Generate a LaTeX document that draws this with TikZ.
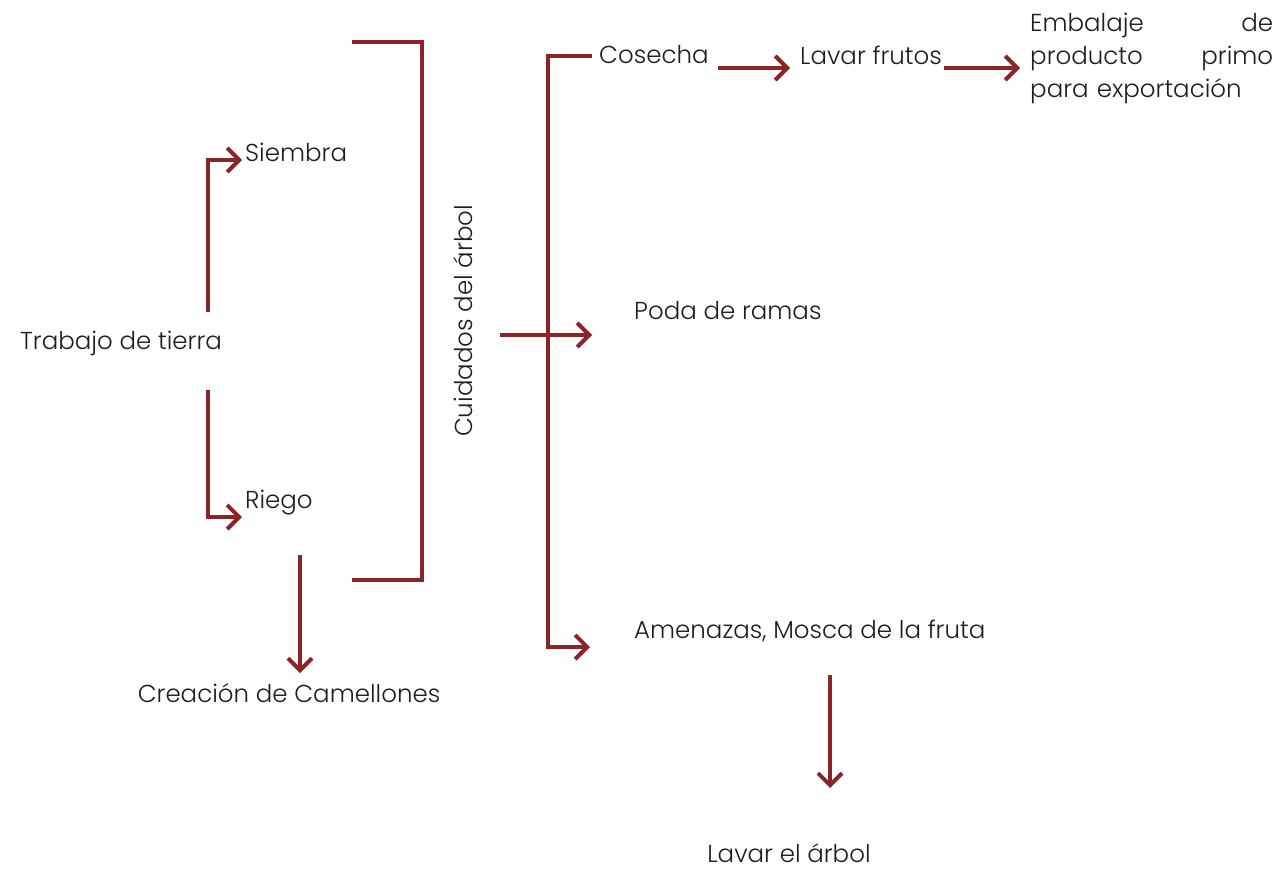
\documentclass[tikz,border=0pt]{standalone}
\usepackage{fontspec}
\setmainfont{Poppins}[UprightFont=* Light]
\usetikzlibrary{arrows.meta}
\definecolor{wine}{RGB}{140,35,40}
\definecolor{ink}{RGB}{30,30,30}
\newcommand{\fsz}{\fontsize{24.5pt}{33pt}\selectfont}
\begin{document}
\begin{tikzpicture}[x=1pt,y=-1pt,
  lbl/.style={font=\fsz, inner sep=0pt, anchor=west, text=ink},
  ln/.style={draw=wine, line width=4pt, line join=miter},
  arr/.style={ln, -{Straight Barb[length=12pt,width=24pt]}}]
\useasboundingbox[fill=white] (0,0) rectangle (1281,870);
% nodes
\node[lbl] (trabajo) at (20,343) {Trabajo de tierra};
\node[lbl] (siembra) at (245,152) {Siembra};
\node[lbl] (riego) at (245,503) {Riego};
\node[lbl,anchor=center] (camellones) at (289,693) {Creación de Camellones};
\node[lbl,anchor=center,rotate=90] (cuidados) at (463,321) {Cuidados del árbol};
\node[lbl] (cosecha) at (599,55) {Cosecha};
\node[lbl] (lavar) at (800,55) {Lavar frutos};
\node[lbl,anchor=north west,text width=243pt,align=left] (embalaje) at (1030,13)
  {Embalaje\hfill de\\producto\hfill primo\\para exportación};
\node[lbl] (poda) at (634,311) {Poda de ramas};
\node[lbl] (amenazas) at (634,631) {Amenazas, Mosca de la fruta};
\node[lbl,anchor=center] (lavararbol) at (789,853) {Lavar el árbol};
% free ends
\coordinate (tsU) at (208,312);
\coordinate (tsD) at (208,390);
\coordinate (siT) at (242,160);
\coordinate (riT) at (242,517);
\coordinate (caS) at (300,555);
\coordinate (caT) at (300,673);
\coordinate (brA) at (352,42);
\coordinate (brB) at (422,580);
\coordinate (brC) at (352,580);
\coordinate (cuS) at (500,335);
\coordinate (cuT) at (592,335);
\coordinate (trT) at (592,56);
\coordinate (trC) at (548,647);
\coordinate (amT) at (590,647);
\coordinate (coS) at (718,68);
\coordinate (coT) at (790,68);
\coordinate (lfS) at (944,68);
\coordinate (lfT) at (1020,68);
\coordinate (laS) at (830,675);
\coordinate (laT) at (830,788);
% connectors
\draw[arr] (tsU) |- (siT);
\draw[arr] (tsD) |- (riT);
\draw[arr] (caS) -- (caT);
\draw[ln] (brA) -| (brB) -- (brC);
\draw[arr] (cuS) -- (cuT);
\draw[arr] (trT) -| (trC) -- (amT);
\draw[arr] (coS) -- (coT);
\draw[arr] (lfS) -- (lfT);
\draw[arr] (laS) -- (laT);
\end{tikzpicture}
\end{document}
